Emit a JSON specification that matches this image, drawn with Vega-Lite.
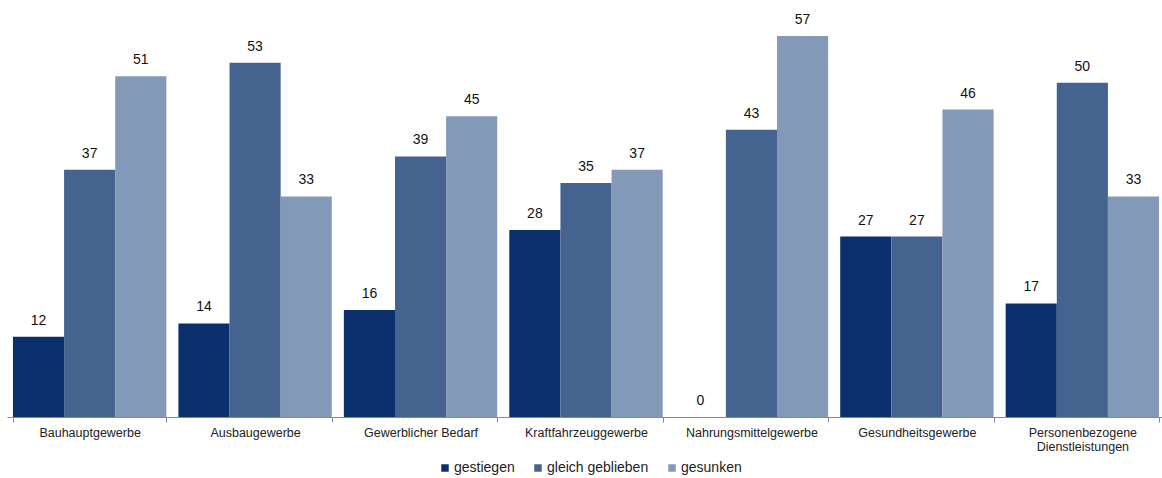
{
  "$schema": "https://vega.github.io/schema/vega-lite/v6.json",
  "width": 1158,
  "height": 417,
  "autosize": {"type": "none"},
  "padding": {"left": 7, "top": 0, "right": 0, "bottom": 61},
  "background": "white",
  "config": {"view": {"stroke": null}, "font": "Liberation Sans"},
  "data": {"values": [
    {"cat": "Bauhauptgewerbe", "s": "gestiegen", "v": 12},
    {"cat": "Bauhauptgewerbe", "s": "gleich geblieben", "v": 37},
    {"cat": "Bauhauptgewerbe", "s": "gesunken", "v": 51},
    {"cat": "Ausbaugewerbe", "s": "gestiegen", "v": 14},
    {"cat": "Ausbaugewerbe", "s": "gleich geblieben", "v": 53},
    {"cat": "Ausbaugewerbe", "s": "gesunken", "v": 33},
    {"cat": "Gewerblicher Bedarf", "s": "gestiegen", "v": 16},
    {"cat": "Gewerblicher Bedarf", "s": "gleich geblieben", "v": 39},
    {"cat": "Gewerblicher Bedarf", "s": "gesunken", "v": 45},
    {"cat": "Kraftfahrzeuggewerbe", "s": "gestiegen", "v": 28},
    {"cat": "Kraftfahrzeuggewerbe", "s": "gleich geblieben", "v": 35},
    {"cat": "Kraftfahrzeuggewerbe", "s": "gesunken", "v": 37},
    {"cat": "Nahrungsmittelgewerbe", "s": "gestiegen", "v": 0},
    {"cat": "Nahrungsmittelgewerbe", "s": "gleich geblieben", "v": 43},
    {"cat": "Nahrungsmittelgewerbe", "s": "gesunken", "v": 57},
    {"cat": "Gesundheitsgewerbe", "s": "gestiegen", "v": 27},
    {"cat": "Gesundheitsgewerbe", "s": "gleich geblieben", "v": 27},
    {"cat": "Gesundheitsgewerbe", "s": "gesunken", "v": 46},
    {"cat": "Personenbezogene Dienstleistungen", "s": "gestiegen", "v": 17},
    {"cat": "Personenbezogene Dienstleistungen", "s": "gleich geblieben", "v": 50},
    {"cat": "Personenbezogene Dienstleistungen", "s": "gesunken", "v": 33}
  ]},
  "encoding": {
    "x": {
      "field": "cat", "type": "nominal", "sort": null, "title": null,
      "scale": {"paddingInner": 0.073, "paddingOuter": 0.036},
      "axis": {
        "labelAngle": 0, "labelFontSize": 12.5, "labelColor": "#222222",
        "labelPadding": 4, "domainColor": "#888888", "tickColor": "#888888",
        "tickSize": 5, "tickBand": "extent", "labelLimit": 200, "labelLineHeight": 14,
        "labelExpr": "datum.label == 'Personenbezogene Dienstleistungen' ? ['Personenbezogene', 'Dienstleistungen'] : datum.label"
      }
    },
    "xOffset": {"field": "s", "type": "nominal", "sort": ["gestiegen", "gleich geblieben", "gesunken"], "scale": {"paddingInner": 0, "paddingOuter": 0}},
    "y": {"field": "v", "type": "quantitative", "scale": {"domain": [0, 62.4], "nice": false}, "axis": null}
  },
  "layer": [
    {
      "mark": {"type": "bar"},
      "encoding": {
        "color": {
          "field": "s", "type": "nominal", "sort": ["gestiegen", "gleich geblieben", "gesunken"],
          "scale": {"domain": ["gestiegen", "gleich geblieben", "gesunken"], "range": ["#0b2f6c", "#45638f", "#8399b8"]},
          "legend": {
            "title": null, "orient": "none", "direction": "horizontal",
            "legendX": 431, "legendY": 461, "symbolType": "square", "symbolSize": 56,
            "symbolStrokeWidth": 0, "labelFontSize": 14, "labelColor": "#222222",
            "columnPadding": 16, "labelOffset": 2
          }
        }
      }
    },
    {
      "mark": {"type": "text", "baseline": "bottom", "dy": -9, "fontSize": 14, "color": "#111111"},
      "encoding": {"text": {"field": "v", "type": "quantitative"}}
    }
  ]
}
